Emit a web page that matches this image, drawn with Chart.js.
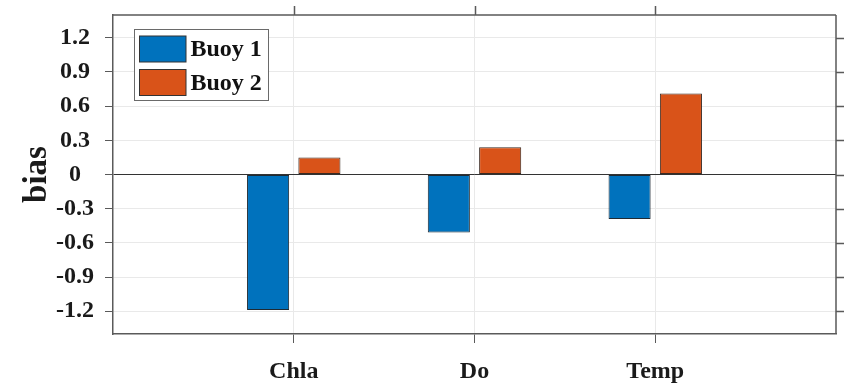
<!DOCTYPE html>
<html>
<head>
<meta charset="utf-8">
<script src="https://cdn.jsdelivr.net/npm/chart.js@4/dist/chart.umd.min.js"></script>
<style>
  html, body { margin: 0; padding: 0; background: #ffffff; }
  #wrap { width: 844px; height: 389px; position: relative; }
</style>
</head>
<body>
<div id="wrap"><canvas id="c" width="844" height="389"></canvas></div>
<script>
// Variables measured at each buoy
const categories = ['Chla', 'Do', 'Temp'];
// Bias of each variable per buoy
const buoy1 = [-1.19, -0.51, -0.39];
const buoy2 = [0.15, 0.24, 0.71];
const seriesNames = ['Buoy 1', 'Buoy 2'];
// Y tick values
const yTicks = [-1.2, -0.9, -0.6, -0.3, 0, 0.3, 0.6, 0.9, 1.2];

const FONT = '"Liberation Serif", "Times New Roman", serif';
const FRAME = '#5a5a5a';
const GRID = '#e9e9e9';

const toPoints = vals => vals.map((v, i) => ({ x: i + 1, y: v }));

// Full box frame with mirrored ticks on top and right, plus the legend
const framePlugin = {
  id: 'frame',
  afterDraw(chart) {
    const { ctx, chartArea: a, scales } = chart;
    ctx.save();
    ctx.strokeStyle = FRAME;
    ctx.lineWidth = 1.5;
    ctx.beginPath();
    ctx.moveTo(a.left, a.top); ctx.lineTo(a.right, a.top);
    ctx.moveTo(a.right, a.top); ctx.lineTo(a.right, a.bottom);
    // top ticks
    scales.x.ticks.forEach(t => {
      const px = Math.round(scales.x.getPixelForValue(t.value)) + 0.5;
      ctx.moveTo(px, a.top); ctx.lineTo(px, a.top - 9);
    });
    // right ticks
    scales.y.ticks.forEach(t => {
      const py = Math.round(scales.y.getPixelForValue(t.value)) + 0.5;
      ctx.moveTo(a.right, py); ctx.lineTo(a.right + 8, py);
    });
    ctx.stroke();

    // legend box
    const lx = 134.5, ly = 29.5, lw = 134, lh = 71;
    ctx.fillStyle = '#ffffff';
    ctx.fillRect(lx, ly, lw, lh);
    ctx.strokeStyle = '#6a6a6a';
    ctx.lineWidth = 1;
    ctx.strokeRect(lx, ly, lw, lh);
    chart.data.datasets.forEach((ds, i) => {
      const sy = 36 + i * 33.5;
      ctx.fillStyle = ds.backgroundColor;
      ctx.fillRect(139.5, sy, 46.5, 26);
      ctx.strokeStyle = '#333333';
      ctx.strokeRect(139.5, sy, 46.5, 26);
      ctx.fillStyle = '#111111';
      ctx.font = 'bold 24px ' + FONT;
      ctx.textAlign = 'left';
      ctx.textBaseline = 'middle';
      ctx.fillText(ds.label, 190.5, sy + 14);
    });
    ctx.restore();
  }
};

new Chart(document.getElementById('c'), {
  type: 'bar',
  data: {
    datasets: [
      {
        label: seriesNames[0],
        data: toPoints(buoy1),
        backgroundColor: '#0072BD',
        borderColor: '#1f2a33',
        borderWidth: 1,
        borderSkipped: false,
        categoryPercentage: 0.568,
        barPercentage: 0.82
      },
      {
        label: seriesNames[1],
        data: toPoints(buoy2),
        backgroundColor: '#D95319',
        borderColor: '#3a2a22',
        borderWidth: 1,
        borderSkipped: false,
        categoryPercentage: 0.568,
        barPercentage: 0.82
      }
    ]
  },
  options: {
    responsive: false,
    animation: false,
    devicePixelRatio: 1,
    layout: { padding: { top: 15, right: 8, left: 0, bottom: 0 } },
    plugins: {
      legend: { display: false },
      tooltip: { enabled: false }
    },
    scales: {
      x: {
        type: 'linear',
        min: 0,
        max: 4,
        offset: false,
        afterBuildTicks(scale) {
          scale.ticks = categories.map((c, i) => ({ value: i + 1 }));
        },
        afterFit(scale) {
          scale.height = 55;
          scale.paddingLeft = 0; scale.paddingRight = 0;
        },
        ticks: {
          callback: v => categories[v - 1] || '',
          color: '#1a1a1a',
          font: { family: FONT, size: 24, weight: 'bold' },
          padding: 14,
          maxRotation: 0,
          autoSkip: false
        },
        grid: {
          offset: false,
          color: GRID,
          tickColor: FRAME,
          tickLength: 9,
          lineWidth: 1
        },
        border: { color: FRAME, width: 1.5 }
      },
      y: {
        min: -1.4,
        max: 1.4,
        afterBuildTicks(scale) {
          scale.ticks = yTicks.map(v => ({ value: v }));
        },
        afterFit(scale) {
          scale.width = 113;
          scale.paddingTop = 0; scale.paddingBottom = 0;
        },
        ticks: {
          callback: v => String(Math.round(v * 10) / 10),
          color: '#1a1a1a',
          font: { family: FONT, size: 24, weight: 'bold' },
          padding: 11,
          crossAlign: 'center',
          autoSkip: false
        },
        grid: {
          color: ctx => (ctx.tick && ctx.tick.value === 0) ? '#333333' : GRID,
          tickColor: FRAME,
          tickLength: 8,
          lineWidth: 1
        },
        border: { color: FRAME, width: 1.5 },
        title: {
          display: true,
          text: 'bias',
          color: '#1a1a1a',
          font: { family: FONT, size: 33, weight: 'bold' },
          padding: { top: 18, bottom: 0 }
        }
      }
    }
  },
  plugins: [framePlugin]
});
</script>
</body>
</html>
